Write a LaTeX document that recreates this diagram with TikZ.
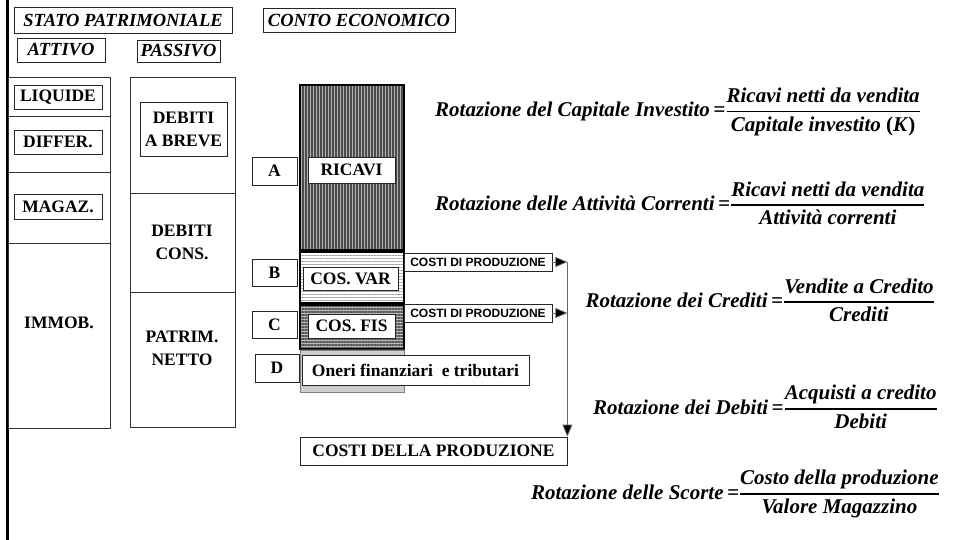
\documentclass[tikz,border=0pt]{standalone}
\usepackage{amsmath}
\usepackage{fontspec}
\setmainfont{Liberation Serif}
\newfontfamily\arialfont{Liberation Sans}
\usetikzlibrary{arrows.meta,patterns.meta}
\newcommand\rotfrac[2]{$\genfrac{}{}{1.4pt}{0}{\mbox{#1}}{\mbox{#2}}$}

\begin{document}
\begin{tikzpicture}[x=1pt,y=-1pt]
	\tikzset{box/.style={draw=black!85, line width=0.8pt, fill=white, inner sep=0, align=center, font=\fontsize{17.5}{23}\selectfont\bfseries},
		ibox/.style={box, font=\fontsize{18.5}{23}\selectfont\bfseries\itshape},
		lbl/.style={inner sep=0, align=center, font=\fontsize{17.5}{23}\selectfont\bfseries},
		small/.style={box, line width=0.6pt, font=\arialfont\fontsize{12}{14}\selectfont\bfseries},
		frm/.style={inner sep=0, anchor=west, font=\fontsize{21}{25}\selectfont\bfseries\itshape},
		sec/.style={draw=black!80, line width=0.8pt},
		arr/.style={draw=black!60, line width=0.8pt, -{Triangle[length=12pt, width=10pt, fill=black]}}}
	\useasboundingbox (0,0) rectangle (954,540);
	\draw[line width=3pt] (7,0) -- (7,540);

	\node[ibox, minimum width=218, minimum height=26] at (123, 20) (stato) {STATO PATRIMONIALE};
	\node[ibox, minimum width=192, minimum height=24] at (359, 20) (conto) {CONTO ECONOMICO};
	\node[ibox, minimum width=88, minimum height=24] at (61, 50) (attivo) {ATTIVO};
	\node[ibox, minimum width=83, minimum height=22] at (178.5, 51) (passivo) {PASSIVO};

	% attivo
	\draw[sec] (8,77) rectangle (110,116);
	\draw[sec] (8,116) rectangle (110,172);
	\draw[sec] (8,172) rectangle (110,243);
	\draw[sec] (8,243) rectangle (110,428);
	\node[box, minimum width=88, minimum height=24] at (58, 97) (liq) {LIQUIDE};
	\node[box, minimum width=88, minimum height=24] at (58, 142) (dif) {DIFFER.};
	\node[box, minimum width=88, minimum height=25] at (58, 206.5) (mag) {MAGAZ.};
	\node[lbl] at (59, 323) (imm) {IMMOB.};

	% passivo
	\draw[sec] (130,77) rectangle (235,193);
	\draw[sec] (130,193) rectangle (235,292);
	\draw[sec] (130,292) rectangle (235,427);
	\node[box, minimum width=87, minimum height=54] at (183.5, 129) (deb) {DEBITI\\A BREVE};
	\node[lbl] at (182, 242) (cons) {DEBITI\\CONS.};
	\node[lbl] at (182, 348) (netto) {PATRIM.\\NETTO};

	% conto economico
	\draw[line width=2.5pt, preaction={fill=gray!60}, pattern={Lines[angle=90, distance=3pt, line width=1.3pt]}, pattern color=black!70] (300,85) rectangle (404,250);
	\draw[line width=2.5pt, preaction={fill=white}, pattern={Lines[angle=0, distance=3pt, line width=0.7pt]}, pattern color=gray!70] (300,252) rectangle (404,303);
	\draw[line width=2.5pt, preaction={fill=gray!55}, pattern={Lines[angle=0, distance=3pt, line width=1.2pt]}, pattern color=black!65] (300,305) rectangle (404,349);
	\draw[draw=gray, line width=0.8pt, preaction={fill=gray!45}, pattern={Dots[distance=2pt, radius=0.5pt]}, pattern color=white] (300,350) rectangle (404,392);

	\node[box, minimum width=87, minimum height=26] at (351.5, 170) (ric) {RICAVI};
	\node[box, minimum width=45, minimum height=28] at (274.5, 171) (a) {A};
	\node[box, minimum width=95, minimum height=23] at (350.5, 278.5) (var) {COS. VAR};
	\node[box, minimum width=45, minimum height=27] at (274.5, 272.5) (b) {B};
	\node[box, minimum width=87, minimum height=24] at (351.5, 326) (fis) {COS. FIS};
	\node[box, minimum width=45, minimum height=27] at (274.5, 324.5) (c) {C};
	\node[box, minimum width=227, minimum height=30] at (415.5, 370) (oneri) {Oneri finanziari~ e tributari};
	\node[box, minimum width=44, minimum height=28] at (277, 368) (d) {D};

	\node[small, minimum width=148, minimum height=18] at (478, 262) (cdp1) {COSTI DI PRODUZIONE};
	\node[small, minimum width=148, minimum height=18] at (478, 313) (cdp2) {COSTI DI PRODUZIONE};
	\node[box, minimum width=267, minimum height=28] at (433.5, 451) (cdlp) {COSTI DELLA PRODUZIONE};

	\coordinate (j1) at (cdp1.east -| cdlp.east);
	\draw[arr] (cdp1.east) -- (j1);
	\draw[arr] (cdp2.east) -- (cdp2.east -| cdlp.east);
	\draw[arr] (j1) -- (cdlp.north east);

	% indici di rotazione
	\node[frm] at (435, 112) (f1) {Rotazione del Capitale Investito\,=\rotfrac{Ricavi netti da vendita}{Capitale investito \textup{(}K\textup{)}}};
	\node[frm] at (435, 203) (f2) {Rotazione delle Attività Correnti\,=\rotfrac{Ricavi netti da vendita}{Attività correnti}};
	\node[frm, anchor=east] at (935, 300) (f3) {Rotazione dei Crediti\,=\rotfrac{Vendite a Credito}{Crediti}};
	\node[frm] at (593, 407) (f4) {Rotazione dei Debiti\,=\rotfrac{Acquisti a credito}{Debiti}};
	\node[frm, anchor=east] at (940, 494) (f5) {Rotazione delle Scorte\,=\rotfrac{Costo della produzione}{Valore Magazzino}};
\end{tikzpicture}
\end{document}
